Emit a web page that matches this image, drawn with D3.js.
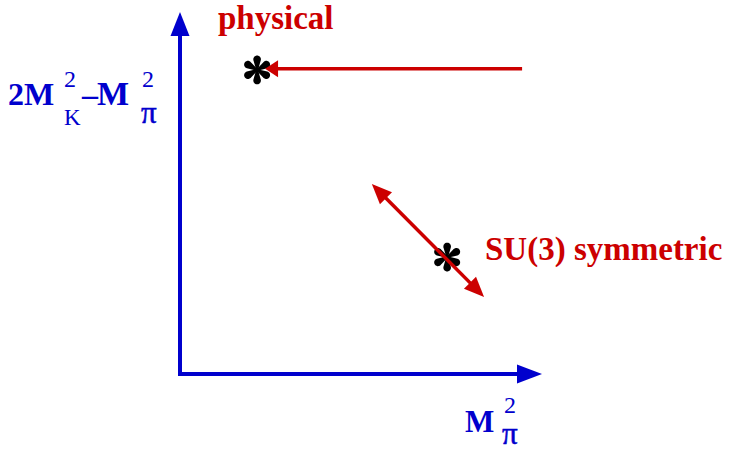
<!DOCTYPE html>
<html>
<head>
<meta charset="utf-8">
<script src="https://cdn.jsdelivr.net/npm/d3@7/dist/d3.min.js"></script>
<style>
  html, body { margin: 0; padding: 0; background: #fff; }
  svg { display: block; }
  text { font-family: "Liberation Serif", "Times New Roman", serif; }
  text.greek { stroke: #0000cd; stroke-width: 0.5px; }
</style>
</head>
<body>
<svg id="chart" width="730" height="450"></svg>
<script>
// Schematic quark-mass plane: M_pi^2 (x) vs 2M_K^2 - M_pi^2 (y), arbitrary units
const xDomain = [0, 10];
const yDomain = [0, 10];

// Marked points
const pointNames = ["physical", "SU(3) symmetric"];
const pointX = [2.13, 7.38];
const pointY = [8.40, 3.23];

// Trajectory arrows (from -> to); double-headed where flagged
const arrowFromX = [9.45, 5.30];
const arrowFromY = [8.43, 5.25];
const arrowToX = [2.35, 8.40];
const arrowToY = [8.43, 2.13];
const arrowDouble = [false, true];

const BLUE = "#0000cd";
const RED = "#cc0000";

const svg = d3.select("#chart");
const x = d3.scaleLinear().domain(xDomain).range([180, 542]);
const y = d3.scaleLinear().domain(yDomain).range([374, 12]);

// Triangular head with its tip at (tx,ty), pointing away from (fx,fy)
function headPath(tx, ty, fx, fy, len, halfW) {
  const dx = tx - fx, dy = ty - fy;
  const L = Math.hypot(dx, dy);
  const ux = dx / L, uy = dy / L;
  const bx = tx - ux * len, by = ty - uy * len;
  const px = -uy, py = ux;
  return `M${tx},${ty}L${bx + px * halfW},${by + py * halfW}L${bx - px * halfW},${by - py * halfW}Z`;
}
function shorten(tx, ty, fx, fy, d) {
  const L = Math.hypot(tx - fx, ty - fy);
  return [tx - (tx - fx) / L * d, ty - (ty - fy) / L * d];
}

// Axes with arrowheads
const ax = svg.append("g").attr("class", "axes");
const x0 = x(xDomain[0]), y0 = y(yDomain[0]);
const xEnd = x(xDomain[1]), yEnd = y(yDomain[1]);
ax.append("path")
  .attr("d", `M${x0},${yEnd + 20}L${x0},${y0}L${xEnd - 22},${y0}`)
  .attr("fill", "none").attr("stroke", BLUE).attr("stroke-width", 4)
  .attr("stroke-linejoin", "miter");
ax.append("path").attr("d", headPath(x0, yEnd, x0, y0, 24, 9.5)).attr("fill", BLUE);
ax.append("path").attr("d", headPath(xEnd, y0, x0, y0, 25, 9.5)).attr("fill", BLUE);

// Six-armed teardrop asterisk: each arm is a thin stem ending in a round lobe
function asteriskArms(cx, cy) {
  const c = 10.6, R = 3.8, w = 0.9, d = 14 * Math.PI / 180;
  const arms = [];
  for (let k = 0; k < 6; k++) {
    const a = (90 + 60 * k) * Math.PI / 180;
    const ux = Math.cos(a), uy = -Math.sin(a);
    const px = -uy, py = ux;
    const ex = cx + ux * c, ey = cy + uy * c;
    const pts = [[cx + px * w, cy + py * w]];
    for (let i = 0; i <= 24; i++) {
      const phi = (Math.PI / 2 + d) - i / 24 * (Math.PI + 2 * d);
      pts.push([ex + R * (Math.cos(phi) * ux + Math.sin(phi) * px),
                ey + R * (Math.cos(phi) * uy + Math.sin(phi) * py)]);
    }
    pts.push([cx - px * w, cy - py * w]);
    arms.push(pts);
  }
  return arms;
}
const armLine = d3.line().curve(d3.curveLinearClosed);
const pts = pointNames.map((n, i) => ({ name: n, x: pointX[i], y: pointY[i] }));
const stars = svg.append("g").selectAll("g").data(pts).join("g");
stars.selectAll("path")
  .data(d => asteriskArms(x(d.x), y(d.y)))
  .join("path").attr("d", armLine).attr("fill", "#000");
stars.append("circle")
  .attr("cx", d => x(d.x)).attr("cy", d => y(d.y)).attr("r", 2.3).attr("fill", "#000");

// Red trajectory arrows
const arrows = arrowFromX.map((v, i) => ({
  fx: x(v), fy: y(arrowFromY[i]), tx: x(arrowToX[i]), ty: y(arrowToY[i]), both: arrowDouble[i]
}));
const ag = svg.append("g").attr("class", "arrows");
arrows.forEach(a => {
  const len = a.both ? 20 : 13, hw = a.both ? 8.5 : 8.5;
  const end = shorten(a.tx, a.ty, a.fx, a.fy, len - 2);
  const start = a.both ? shorten(a.fx, a.fy, a.tx, a.ty, len - 2) : [a.fx, a.fy];
  ag.append("line")
    .attr("x1", start[0]).attr("y1", start[1]).attr("x2", end[0]).attr("y2", end[1])
    .attr("stroke", RED).attr("stroke-width", 3.5);
  ag.append("path").attr("d", headPath(a.tx, a.ty, a.fx, a.fy, len, hw)).attr("fill", RED);
  if (a.both) ag.append("path").attr("d", headPath(a.fx, a.fy, a.tx, a.ty, len, hw)).attr("fill", RED);
});

// Point labels
svg.append("text").attr("x", 218).attr("y", 29)
  .attr("font-size", 33).attr("font-weight", "bold").attr("fill", RED)
  .text(pointNames[0]);
svg.append("text").attr("x", 485).attr("y", 260)
  .attr("font-size", 33).attr("font-weight", "bold").attr("fill", RED)
  .text(pointNames[1]);

// Axis titles with super/subscripts
const yl = svg.append("g").attr("fill", BLUE);
yl.append("text").attr("x", 8).attr("y", 105).attr("font-size", 32).attr("font-weight", "bold").text("2M");
yl.append("text").attr("x", 64).attr("y", 87).attr("font-size", 24).text("2");
yl.append("text").attr("x", 64).attr("y", 125).attr("font-size", 23).text("K");
yl.append("text").attr("x", 82).attr("y", 105).attr("font-size", 32).attr("font-weight", "bold").text("\u2013");
yl.append("text").attr("x", 97).attr("y", 105).attr("font-size", 34).attr("font-weight", "bold").text("M");
yl.append("text").attr("x", 142).attr("y", 87).attr("font-size", 24).text("2");
yl.append("text").attr("class", "greek").attr("x", 141).attr("y", 123).attr("font-size", 31).text("\u03c0");

const xl = svg.append("g").attr("fill", BLUE);
xl.append("text").attr("x", 465).attr("y", 432).attr("font-size", 31).attr("font-weight", "bold").text("M");
xl.append("text").attr("x", 504).attr("y", 413).attr("font-size", 24).text("2");
xl.append("text").attr("class", "greek").attr("x", 502).attr("y", 444).attr("font-size", 31).text("\u03c0");
</script>
</body>
</html>
